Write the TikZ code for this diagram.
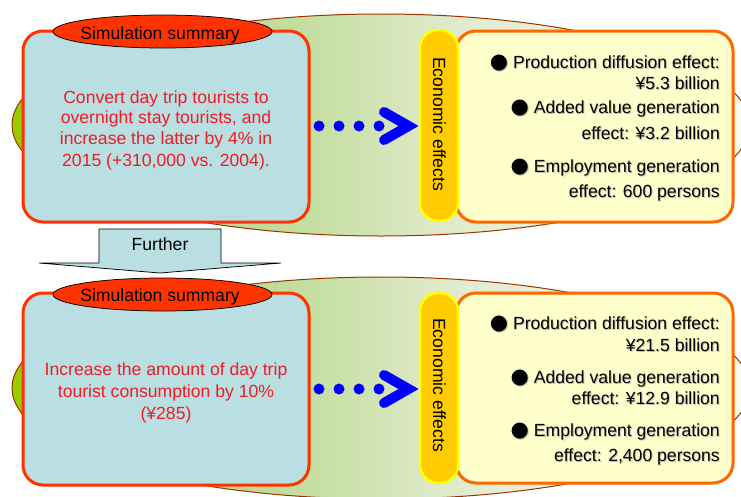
\documentclass[tikz,border=0pt]{standalone}
\usepackage{fontspec}
\setmainfont{Liberation Sans}
\newfontfamily\bulfont{DejaVu Sans}
\usetikzlibrary{shapes.geometric}
\definecolor{boxblue}{HTML}{B9DFE3}
\definecolor{boxred}{HTML}{FF3300}
\definecolor{ovalred}{HTML}{FF3300}
\definecolor{txtred}{HTML}{EE1C24}
\definecolor{pillfill}{HTML}{FFCC00}
\definecolor{pillline}{HTML}{FFFF00}
\definecolor{yelfill}{HTML}{FFFFCC}
\definecolor{yelline}{HTML}{FF6600}
\definecolor{ellline}{HTML}{993300}
\definecolor{dotblue}{HTML}{0000FF}
\definecolor{shadowgray}{HTML}{C0C0B0}
\definecolor{g0}{HTML}{99CC00}
\definecolor{g1}{HTML}{BCD990}
\definecolor{g2}{HTML}{C4DEA0}
\definecolor{g3}{HTML}{DCE8C4}
\definecolor{g4}{HTML}{E2ECD0}
\definecolor{g5}{HTML}{F8FBF2}
\pgfdeclarehorizontalshading{greenfade}{100bp}{color(0bp)=(g0); color(26bp)=(g0); color(38bp)=(g1); color(45bp)=(g2); color(53bp)=(g3); color(56bp)=(g4); color(75bp)=(g5); color(100bp)=(g5)}
\newcommand\bulsym{{\bulfont\fontsize{21}{21}\selectfont ●}}
\newcommand\shtxt[1]{\makebox[0pt][l]{\kern1pt\raisebox{-1pt}{\textcolor{shadowgray}{#1}}}#1}
\tikzset{
  txt/.style={inner sep=0pt, font=\fontsize{17.6}{21}\selectfont},
  redtxt/.style={txt, text=txtred, anchor=base},
  rtxt/.style={txt, text=black, anchor=base east},
  bgell/.style={ellipse, draw=ellline, line width=1pt, shading=greenfade, minimum width=738, minimum height=222, inner sep=0pt},
  bluebox/.style={rectangle, rounded corners=20, draw=boxred, line width=3pt, fill=boxblue, minimum width=286, inner sep=0pt},
  sumoval/.style={ellipse, draw=black, line width=0.75pt, fill=ovalred, minimum width=219, minimum height=33, inner sep=0pt},
  yelbox/.style={rectangle, rounded corners=20, draw=yelline, line width=3pt, fill=yelfill, minimum width=277, inner sep=0pt},
  pill/.style={rectangle, rounded corners=18, draw=pillline, line width=2.5pt, fill=pillfill, minimum width=38, inner sep=0pt},
  pilltxt/.style={txt, rotate=-90},
  bdot/.style={circle, fill=dotblue, minimum size=11, inner sep=0pt},
  chev/.style={draw=dotblue, line width=10pt, line cap=round, line join=miter},
  furtherarrow/.style={draw=black, line width=0.75pt, fill=boxblue}
}
\begin{document}
\begin{tikzpicture}[x=1pt,y=-1pt]
\useasboundingbox (0,0) rectangle (741,496);
\clip (0,0) rectangle (741,496);
\fill[white] (0,0) rectangle (741,496);

% ===== upper block =====
\node[bgell] (ell1) at (381,125) {};
\node[bluebox, minimum height=191] (box1) at (166,126.5) {};
\node[sumoval] (oval1) at (162.5,31.5) {};
\node[txt, anchor=base] (sum1) at (160,39) {Simulation summary};
\node[redtxt] (r1a) at (166,103) {Convert day trip tourists to};
\node[redtxt] (r1b) at (166,123.5) {overnight stay tourists, and};
\node[redtxt] (r1c) at (166,144.5) {increase the latter by 4\% in};
\node[redtxt] (r1d) at (166,166) {2015 (+310,000 vs. 2004).};

\node[bdot] (d1a) at (319,126) {};
\node[bdot] (d1b) at (339,126) {};
\node[bdot] (d1c) at (359,126) {};
\node[bdot] (d1d) at (379,126) {};
\coordinate (c1a) at (384,112);
\coordinate (c1b) at (408.5,126);
\coordinate (c1c) at (384,140);
\draw[chev] (c1a) -- (c1b) -- (c1c);

\node[yelbox, minimum height=191] (yb1) at (594.5,126.5) {};
\node[pill, minimum height=191] (pl1) at (439,125.5) {};
\node[pilltxt] (ee1) at (439.5,124) {Economic effects};

\node[rtxt] (t1a) at (720,68) {\shtxt{\bulsym{} Production diffusion effect:}};
\node[rtxt] (t1b) at (720,89.5) {\shtxt{¥5.3 billion}};
\node[rtxt] (t1c) at (720,113.5) {\shtxt{\bulsym{} Added value generation}};
\node[rtxt] (t1d) at (720,139.5) {\shtxt{effect: ¥3.2 billion}};
\node[rtxt] (t1e) at (720,172) {\shtxt{\bulsym{} Employment generation}};
\node[rtxt] (t1f) at (720,197.5) {\shtxt{effect: 600 persons}};

% ===== further arrow =====
\draw[furtherarrow] (99,229) -- (221,229) -- (221,263) -- (281,263) -- (160,273) -- (39,263) -- (99,263) -- cycle;
\node[txt, anchor=base] (fur) at (160,250) {Further};

% ===== lower block =====
\node[bgell] (ell2) at (381,388) {};
\node[bluebox, minimum height=192] (box2) at (166,389) {};
\node[sumoval] (oval2) at (162.5,294.5) {};
\node[txt, anchor=base] (sum2) at (160,301.5) {Simulation summary};
\node[redtxt] (r2a) at (166,375.5) {Increase the amount of day trip};
\node[redtxt] (r2b) at (166,397) {tourist consumption by 10\%};
\node[redtxt] (r2c) at (166,419.5) {(¥285)};

\node[bdot] (d2a) at (319,389) {};
\node[bdot] (d2b) at (339,389) {};
\node[bdot] (d2c) at (359,389) {};
\node[bdot] (d2d) at (379,389) {};
\coordinate (c2a) at (384,375);
\coordinate (c2b) at (408.5,389);
\coordinate (c2c) at (384,403);
\draw[chev] (c2a) -- (c2b) -- (c2c);

\node[yelbox, minimum height=190] (yb2) at (594.5,388) {};
\node[pill, minimum height=190] (pl2) at (439,388) {};
\node[pilltxt] (ee2) at (439.5,385) {Economic effects};

\node[rtxt] (t2a) at (720,329.5) {\shtxt{\bulsym{} Production diffusion effect:}};
\node[rtxt] (t2b) at (720,351) {\shtxt{¥21.5 billion}};
\node[rtxt] (t2c) at (720,383) {\shtxt{\bulsym{} Added value generation}};
\node[rtxt] (t2d) at (720,404.5) {\shtxt{effect: ¥12.9 billion}};
\node[rtxt] (t2e) at (720,436) {\shtxt{\bulsym{} Employment generation}};
\node[rtxt] (t2f) at (720,461) {\shtxt{effect: 2,400 persons}};
\end{tikzpicture}
\end{document}
